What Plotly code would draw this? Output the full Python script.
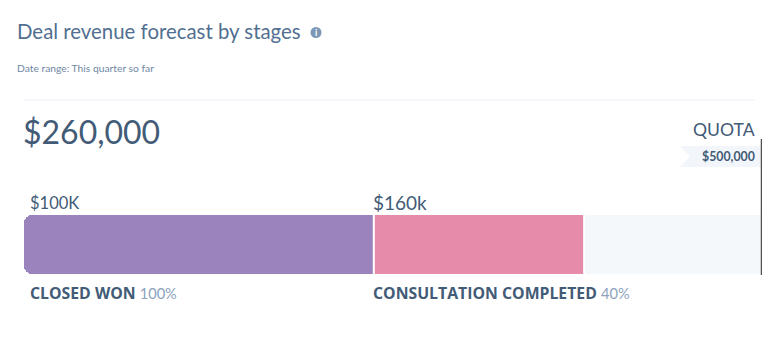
import plotly.graph_objects as go

W, H = 781, 353

# Values as displayed in the picture
title = "Deal revenue forecast by stages"
date_range = "Date range: This quarter so far"
total_label = "$260,000"
quota_title = "QUOTA"
quota_label = "$500,000"
stages = ["CLOSED WON", "CONSULTATION COMPLETED"]
stage_pcts = ["100%", "40%"]
stage_amounts = ["$100K", "$160k"]
# Segment lengths, as % of the bar's full length
segment_shares = [47.4, 28.5]
track_share = 100
colors = ["#9b84bd", "#e68ba9"]
track_color = "#f4f8fb"
DARK = "#425b76"
MID = "#8ba3bd"
FONT = "Lato"
BOLD_FONT = "Open Sans"


def px(x):
    return x / W


def py(y):
    return 1 - y / H


fig = go.Figure()
row = ["forecast"]
start2 = segment_shares[0]
end2 = segment_shares[0] + segment_shares[1]
fig.add_bar(y=row, x=[track_share - end2], base=[end2], orientation="h",
            marker=dict(color=track_color, line=dict(width=0)), hoverinfo="skip")
# Rounded bar for the left corners, flat half on top for the right edge
fig.add_bar(y=row, x=[segment_shares[0]], base=[0], orientation="h",
            marker=dict(color=colors[0], cornerradius=8, line=dict(width=0)), hoverinfo="skip")
fig.add_bar(y=row, x=[segment_shares[0] / 2], base=[segment_shares[0] / 2], orientation="h",
            marker=dict(color=colors[0], line=dict(width=0)), hoverinfo="skip")
fig.add_bar(y=row, x=[segment_shares[1]], base=[start2], orientation="h",
            marker=dict(color=colors[1], line=dict(width=0)), hoverinfo="skip")


def text(x, y, s, size, color=DARK, anchor="left", family=FONT):
    fig.add_annotation(xref="paper", yref="paper", x=px(x), y=py(y), text=s, showarrow=False,
                       xanchor=anchor, yanchor="middle", align=anchor, xshift=0, borderpad=0,
                       font=dict(size=size, color=color, family=family))


def stage_label(x, y, name, pct):
    fig.add_annotation(xref="paper", yref="paper", x=px(x), y=py(y), showarrow=False,
                       xanchor="left", yanchor="middle", align="left", borderpad=0,
                       text=(f"<b>{name}</b> <span style='font-family:{FONT};font-size:14.6px;"
                             f"color:{MID}'>{pct}</span>"),
                       font=dict(size=15.8, color=DARK, family=BOLD_FONT))


text(16, 31, title, 20.4, "#516f90")
text(16, 67.5, date_range, 10.3, "#6f88a5")
text(22, 132, total_label, 32)
text(756, 129, quota_title, 17.6, anchor="right")
text(756, 156, f"<b>{quota_label}</b>", 12.3, anchor="right")
text(29, 203, stage_amounts[0], 16.5)
text(372, 202.5, stage_amounts[1], 19)
stage_label(29, 292.5, stages[0], stage_pcts[0])
stage_label(372, 292.5, stages[1], stage_pcts[1])
text(316, 32.5, "<b>i</b>", 9, "#ffffff", anchor="center")

shapes = [
    dict(type="line", xref="paper", yref="paper", x0=px(24), x1=px(755), y0=py(100), y1=py(100),
         line=dict(color="#eef0f6", width=1)),
    dict(type="path", xref="paper", yref="paper", layer="below", line=dict(width=0), fillcolor="#f2f6fa",
         path=f"M{px(680)},{py(146)} L{px(762)},{py(146)} L{px(762)},{py(167)} L{px(680)},{py(167)} "
              f"L{px(690)},{py(156.5)} Z"),
    dict(type="line", xref="x", yref="paper", x0=start2, x1=start2, y0=py(274), y1=py(215),
         line=dict(color="#ffffff", width=2)),
    dict(type="line", xref="x", yref="paper", x0=end2, x1=end2, y0=py(274), y1=py(215),
         line=dict(color="#ffffff", width=2)),
    dict(type="line", xref="x", yref="paper", x0=track_share, x1=track_share, y0=py(139), y1=py(275),
         line=dict(color="#4f4f4f", width=2.5)),
    dict(type="circle", xref="paper", yref="paper", x0=px(310.5), x1=px(321.5), y0=py(27), y1=py(38),
         fillcolor="#7c98b6", line=dict(width=0), layer="below"),
]

fig.update_layout(
    width=W, height=H, margin=dict(l=0, r=0, t=0, b=0),
    paper_bgcolor="white", plot_bgcolor="white",
    barmode="overlay", bargap=0, showlegend=False, shapes=shapes,
    xaxis=dict(domain=[px(24), px(762)], range=[0, track_share], visible=False, fixedrange=True),
    yaxis=dict(domain=[py(274), py(215)], type="category", range=[-0.5, 0.5], visible=False, fixedrange=True),
)
fig.write_html("out.html", config=dict(displayModeBar=False),
               post_script="document.body.style.margin='0';document.body.style.overflow='hidden';")
